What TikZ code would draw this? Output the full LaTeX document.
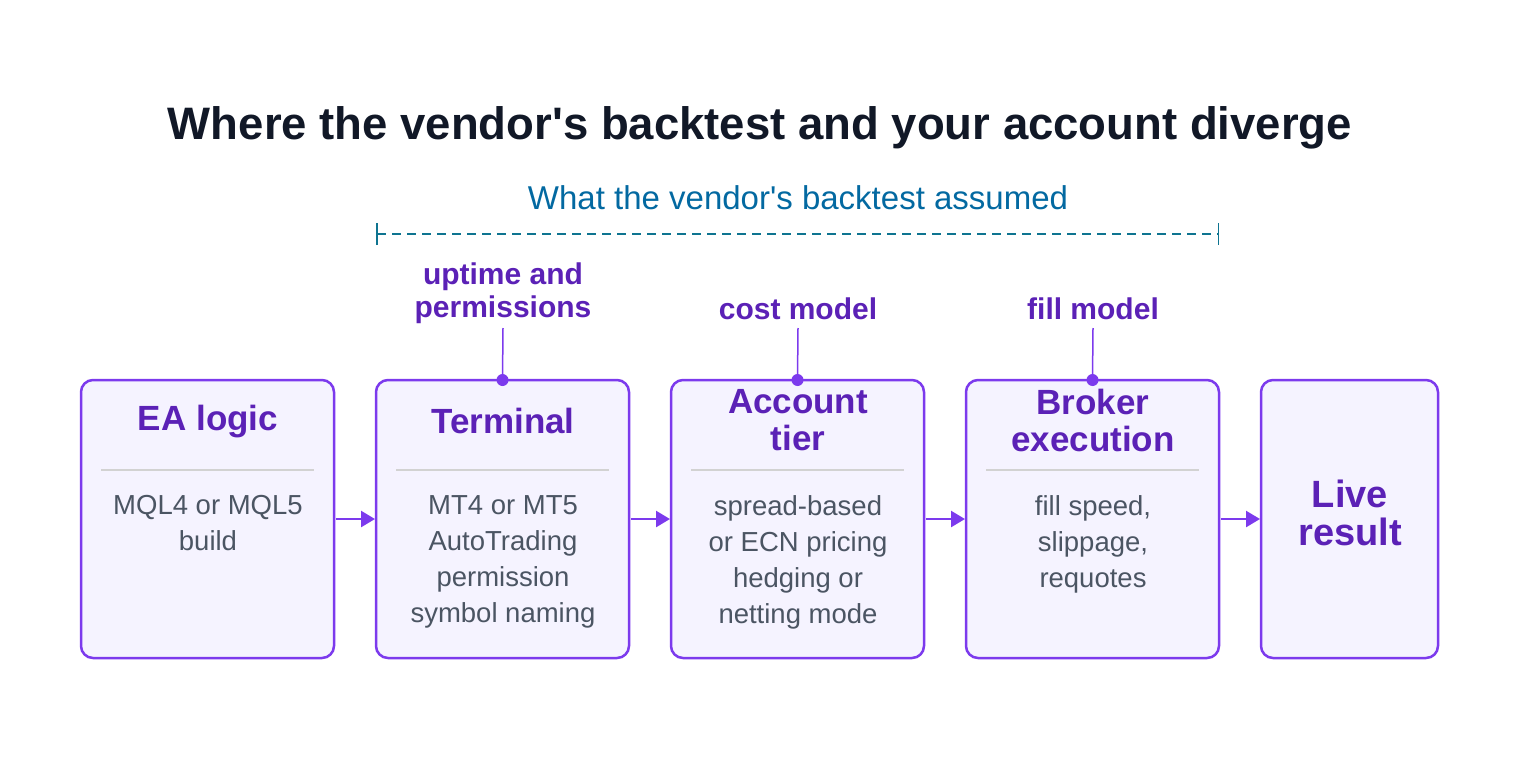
\documentclass[tikz,border=0pt]{standalone}
\usepackage{fontspec}
\setmainfont{Liberation Sans}
\usetikzlibrary{arrows.meta}
\definecolor{stagedraw}{HTML}{7C3AED}
\definecolor{stagefill}{HTML}{F5F3FF}
\definecolor{stagetext}{HTML}{5B21B6}
\definecolor{bodytext}{HTML}{4B5563}
\definecolor{ruletext}{HTML}{0369A1}
\definecolor{rulecol}{HTML}{0E7490}
\definecolor{titletext}{HTML}{111827}
\tikzset{
  stage/.style={draw=stagedraw,fill=stagefill,line width=2.5pt,rounded corners=12pt},
  head/.style={text=stagetext,font=\bfseries\fontsize{35}{37}\selectfont,align=center},
  body/.style={text=bodytext,font=\fontsize{27.5}{36}\selectfont,align=center},
  note/.style={text=stagetext,font=\bfseries\fontsize{30}{33}\selectfont,align=center},
  flow/.style={-{Triangle[length=14pt,width=16pt]},draw=stagedraw,line width=2.5pt},
  tag/.style={draw=stagedraw,line width=1.5pt}
}
\begin{document}
\begin{tikzpicture}[x=1pt,y=-1pt]
  \useasboundingbox (0,0) rectangle (1520,760);
  \node[text=titletext,font=\bfseries\fontsize{45.5}{50}\selectfont] (title) at (760,128) {Where the vendor\textquotesingle s backtest and your account diverge};
  \node[text=ruletext,font=\fontsize{33}{36}\selectfont] (assumed) at (798,198) {What the vendor\textquotesingle s backtest assumed};
  \coordinate (ruleL) at (376,234);
  \coordinate (ruleR) at (1219,234);
  \draw[rulecol,line width=1.5pt,dash pattern=on 9pt off 6pt,{Bar[width=22pt]}-{Bar[width=22pt]}] (ruleL) -- (ruleR);
  % stages
  \foreach \n/\xa/\xb in {ea/81/334,term/376/629,acct/671/924,brok/966/1219,live/1261/1438}{
    \draw[stage] (\xa,380) rectangle (\xb,658);
    \coordinate (\n-in) at (\xa,519);
    \coordinate (\n-out) at (\xb,519);
    \coordinate (\n-top) at ({(\xa+\xb)/2},380);
  }
  \foreach \xa/\xb in {101/314,396/609,691/904,986/1199}
    \draw[gray!35,line width=1.5pt] (\xa,470) -- (\xb,470);
  \node[head] (ea-head) at (208,422) {EA logic};
  \node[head] (term-head) at (503,421) {Terminal};
  \node[head] (acct-head) at (798,420) {Account\\tier};
  \node[head] (brok-head) at (1093,420) {Broker\\execution};
  \node[head,font=\bfseries\fontsize{38}{38}\selectfont] (live-head) at (1350,513) {Live\\result};
  \node[body,anchor=north] (ea-body) at (208,492) {MQL4 or MQL5\\build};
  \node[body,anchor=north] (term-body) at (503,492) {MT4 or MT5\\AutoTrading\\permission\\symbol naming};
  \node[body,anchor=north] (acct-body) at (798,492) {spread-based\\or ECN pricing\\hedging or\\netting mode};
  \node[body,anchor=north] (brok-body) at (1093,492) {fill speed,\\slippage,\\requotes};
  % flow
  \draw[flow] ([xshift=2pt]ea-out) -- ([xshift=-1pt]term-in);
  \draw[flow] ([xshift=2pt]term-out) -- ([xshift=-1pt]acct-in);
  \draw[flow] ([xshift=2pt]acct-out) -- ([xshift=-1pt]brok-in);
  \draw[flow] ([xshift=2pt]brok-out) -- ([xshift=-1pt]live-in);
  % notes
  \node[note] (uptime) at (503,293) {uptime and\\permissions};
  \node[note] (cost) at (798,309) {cost model};
  \node[note] (fill) at (1093,309) {fill model};
  \foreach \n/\s in {uptime/term,cost/acct,fill/brok}{
    \draw[tag] (\n.south |- 0,328) -- (\s-top);
    \fill[stagedraw] (\s-top) circle (6pt);
  }
\end{tikzpicture}
\end{document}
